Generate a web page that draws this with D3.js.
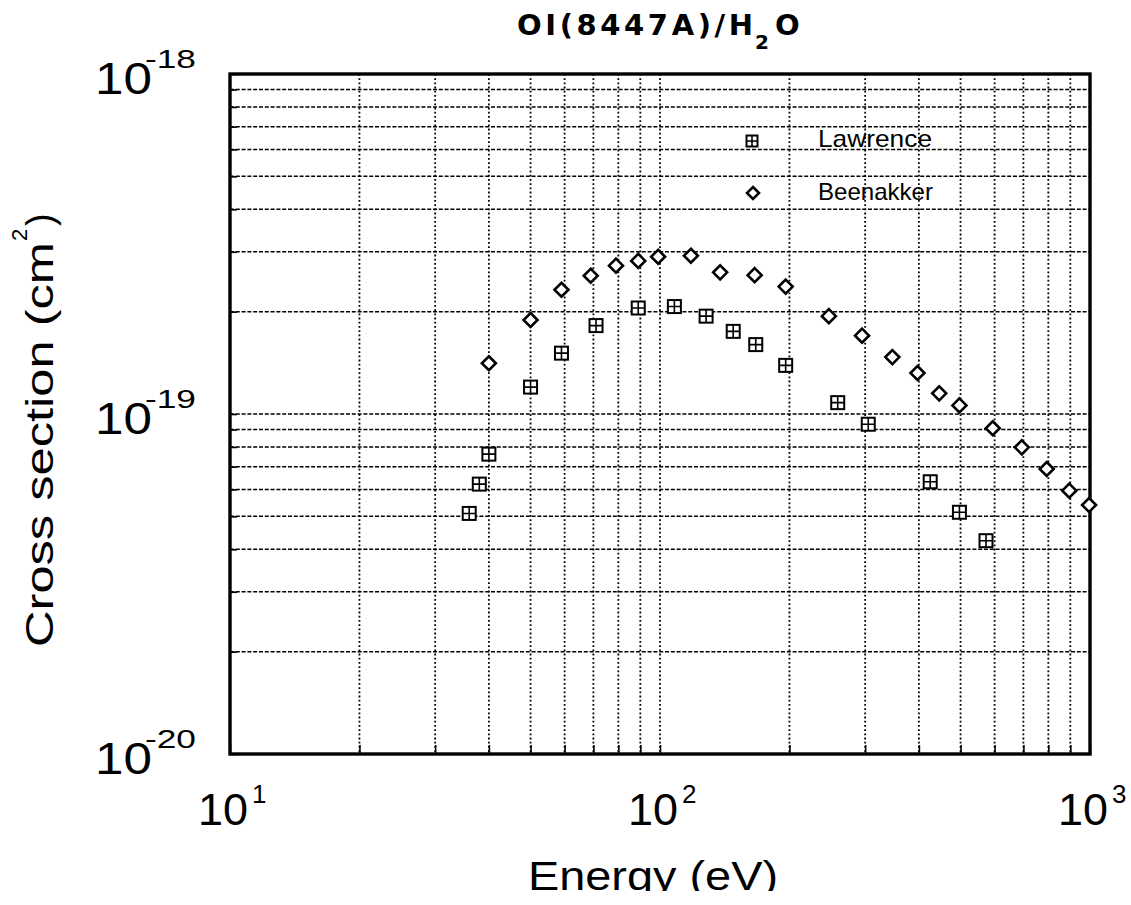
<!DOCTYPE html>
<html>
<head>
<meta charset="utf-8">
<script src="https://cdn.jsdelivr.net/npm/d3@7"></script>
<style>
    html, body { margin: 0; padding: 0; background: #fff; }
    svg { display: block; font-family: "Liberation Sans", Arial, Helvetica, sans-serif; }
</style>
</head>
<body>
<svg id="chart" width="1131" height="905"></svg>
<script>
// OI(8447A)/H2O emission cross sections
const lawrenceEnergy = [36, 38, 40, 50, 59, 71, 89, 108, 128, 148, 167, 196, 259, 305, 425, 497, 573];
const lawrenceSigma = [5.10e-20, 6.22e-20, 7.62e-20, 1.20e-19, 1.51e-19, 1.82e-19, 2.05e-19, 2.07e-19,
    1.94e-19, 1.75e-19, 1.60e-19, 1.39e-19, 1.08e-19, 9.33e-20, 6.32e-20, 5.14e-20, 4.24e-20];
const beenakkerEnergy = [40, 50, 59, 69, 79, 89, 99, 118, 138, 166, 196, 247, 295, 347, 397, 446, 497,
    594, 694, 793, 895, 995];
const beenakkerSigma = [1.41e-19, 1.89e-19, 2.32e-19, 2.55e-19, 2.73e-19, 2.82e-19, 2.90e-19, 2.92e-19,
    2.61e-19, 2.56e-19, 2.37e-19, 1.94e-19, 1.70e-19, 1.47e-19, 1.32e-19, 1.15e-19, 1.06e-19, 9.08e-20,
    7.98e-20, 6.89e-20, 5.95e-20, 5.40e-20];
const seriesNames = ['Lawrence', 'Beenakker'];
const xDecades = [1, 2, 3];
const yDecades = [-18, -19, -20];

(function() {
    'use strict';

    const svg = d3.select('#chart');

    const x = d3.scaleLog().domain([10, 1000]).range([230, 1090]);
    const y = d3.scaleLog().domain([1e-20, 1e-18]).range([754, 74]);

    const left = x.range()[0], right = x.range()[1];
    const top = y.range()[1], bottom = y.range()[0];

    // Grid: dotted verticals, dashed horizontals at every log tick
    const grid = svg.append('g').attr('class', 'grid');
    grid.selectAll('line.vx')
        .data(x.ticks().filter(v => v > 10 && v < 1000))
        .join('line')
        .attr('x1', d => x(d)).attr('x2', d => x(d))
        .attr('y1', top).attr('y2', bottom)
        .attr('stroke', '#000')
        .attr('stroke-width', 1.8)
        .attr('stroke-dasharray', '1.8,2.4');

    grid.selectAll('line.hy')
        .data(y.ticks().filter(v => v > 1.01e-20 && v < 0.99e-18))
        .join('line')
        .attr('x1', left).attr('x2', right)
        .attr('y1', d => y(d)).attr('y2', d => y(d))
        .attr('stroke', '#000')
        .attr('stroke-width', 1.5)
        .attr('stroke-dasharray', '4,1.8');

    // Inward ticks on left and bottom
    const xAxis = d3.axisBottom(x).tickSize(-9).tickFormat('');
    svg.append('g')
        .attr('transform', `translate(0,${bottom})`)
        .call(xAxis)
        .call(g => g.select('.domain').remove())
        .call(g => g.selectAll('.tick line').attr('stroke', '#000').attr('stroke-width', 1.6));

    const yAxis = d3.axisLeft(y).tickSize(-7).tickFormat('');
    svg.append('g')
        .attr('transform', `translate(${left},0)`)
        .call(yAxis)
        .call(g => g.select('.domain').remove())
        .call(g => g.selectAll('.tick line').attr('stroke', '#000').attr('stroke-width', 1.6));

    // Frame
    svg.append('rect')
        .attr('x', left).attr('y', top)
        .attr('width', right - left).attr('height', bottom - top)
        .attr('fill', 'none')
        .attr('stroke', '#000')
        .attr('stroke-width', 3.4);

    // Markers
    function squareMark(g, cx, cy, s) {
        const h = s / 2;
        g.append('rect')
            .attr('x', cx - h).attr('y', cy - h)
            .attr('width', s).attr('height', s)
            .attr('fill', '#fff').attr('stroke', '#000').attr('stroke-width', 2);
        g.append('path')
            .attr('d', `M${cx - h},${cy}H${cx + h}M${cx},${cy - h}V${cy + h}`)
            .attr('stroke', '#000').attr('stroke-width', 1.6);
    }

    function diamondMark(g, cx, cy, s) {
        const h = s / 2;
        g.append('path')
            .attr('d', `M${cx},${cy - h}L${cx + h},${cy}L${cx},${cy + h}L${cx - h},${cy}Z`)
            .attr('fill', '#fff').attr('stroke', '#000').attr('stroke-width', 2.6);
    }

    const marks = svg.append('g').attr('class', 'marks');
    lawrenceEnergy.forEach((e, i) => squareMark(marks, x(e), y(lawrenceSigma[i]), 13));
    beenakkerEnergy.forEach((e, i) => diamondMark(marks, x(e), y(beenakkerSigma[i]), 14));

    // Legend
    const legend = svg.append('g').attr('class', 'legend');
    squareMark(legend, 752, 141, 11);
    diamondMark(legend, 753, 193, 12);
    legend.append('text')
        .attr('x', 818).attr('y', 147)
        .attr('font-size', 24)
        .attr('textLength', 114).attr('lengthAdjust', 'spacingAndGlyphs')
        .text(seriesNames[0]);
    legend.append('text')
        .attr('x', 818).attr('y', 200)
        .attr('font-size', 24)
        .attr('textLength', 115).attr('lengthAdjust', 'spacingAndGlyphs')
        .text(seriesNames[1]);

    // Title, heavy face
    const title = svg.append('g')
        .attr('font-family', '"DejaVu Sans", sans-serif')
        .attr('font-weight', 'bold');
    title.append('text')
        .attr('x', 517).attr('y', 35)
        .attr('font-size', 29)
        .attr('textLength', 236).attr('lengthAdjust', 'spacing')
        .text('OI(8447A)/H');
    title.append('text')
        .attr('x', 755).attr('y', 49)
        .attr('font-size', 20)
        .text('2');
    title.append('text')
        .attr('x', 775).attr('y', 35)
        .attr('font-size', 29)
        .text('O');

    // Y tick labels 10^n
    const yLab = svg.append('g');
    yDecades.forEach(p => {
        const yy = y(Math.pow(10, p));
        yLab.append('text')
            .attr('x', 95).attr('y', yy + 20)
            .attr('font-size', 44)
            .attr('textLength', 57).attr('lengthAdjust', 'spacingAndGlyphs')
            .text('10');
        yLab.append('text')
            .attr('x', 145).attr('y', yy - 6)
            .attr('font-size', 25)
            .attr('textLength', 51).attr('lengthAdjust', 'spacingAndGlyphs')
            .text('-' + Math.abs(p));
    });

    // X tick labels 10^n
    const xLab = svg.append('g');
    xDecades.forEach(p => {
        const xx = x(Math.pow(10, p));
        xLab.append('text')
            .attr('x', xx - 32).attr('y', 825)
            .attr('font-size', 44)
            .attr('textLength', 50).attr('lengthAdjust', 'spacingAndGlyphs')
            .text('10');
        xLab.append('text')
            .attr('x', xx + 22).attr('y', 803)
            .attr('font-size', 26)
            .text(String(p));
    });

    // Axis titles; the bottom of the page cuts the x title
    svg.append('defs').append('clipPath').attr('id', 'pageclip')
        .append('rect').attr('x', 0).attr('y', 0).attr('width', 1131).attr('height', 891);

    svg.append('text')
        .attr('clip-path', 'url(#pageclip)')
        .attr('x', 528).attr('y', 890)
        .attr('font-size', 40)
        .attr('textLength', 250).attr('lengthAdjust', 'spacingAndGlyphs')
        .text('Energy  (eV)');

    const yTitle = svg.append('g').attr('transform', 'translate(53,647) rotate(-90)');
    yTitle.append('text')
        .attr('x', 0).attr('y', 0)
        .attr('font-size', 38)
        .attr('textLength', 405).attr('lengthAdjust', 'spacingAndGlyphs')
        .text('Cross section  (cm');
    yTitle.append('text')
        .attr('x', 406).attr('y', -26)
        .attr('font-size', 22)
        .text('2');
    yTitle.append('text')
        .attr('x', 421).attr('y', 0)
        .attr('font-size', 38)
        .text(')');
})();
</script>
</body>
</html>
